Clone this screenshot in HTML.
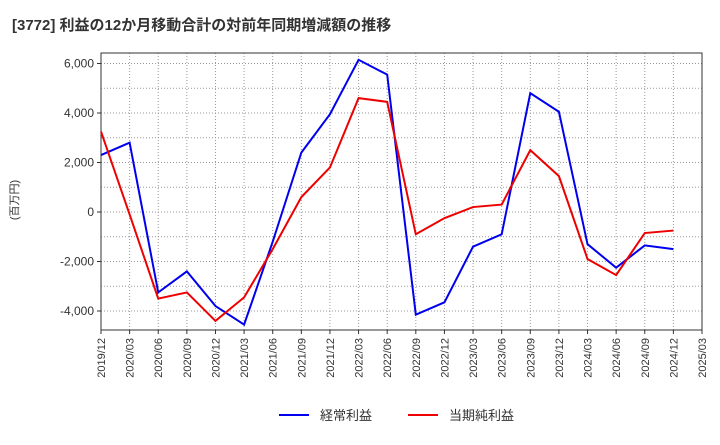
<!DOCTYPE html>
<html><head><meta charset="utf-8"><style>
body{margin:0;background:#fff;font-family:"Liberation Sans","Noto Sans CJK JP",sans-serif;}
</style></head><body>
<svg id="c" width="720" height="440" xmlns="http://www.w3.org/2000/svg">
<text x="12" y="30" font-size="15" font-weight="bold" fill="#333" font-family="Liberation Sans,Noto Sans CJK JP,sans-serif">[3772]  利益の12か月移動合計の対前年同期増減額の推移</text>
<text transform="translate(18,200) rotate(-90)" font-size="11" fill="#333" text-anchor="middle" font-family="Liberation Sans,Noto Sans CJK JP,sans-serif">(百万円)</text>
<g id="grid"></g><g id="axes"></g><g id="series"></g>
<g>
<line x1="279" y1="415" x2="309" y2="415" stroke="#0000ee" stroke-width="2"/>
<text x="320" y="420" font-size="13" fill="#333" font-family="Liberation Sans,Noto Sans CJK JP,sans-serif">経常利益</text>
<line x1="408" y1="415" x2="438" y2="415" stroke="#ee0000" stroke-width="2"/>
<text x="449" y="420" font-size="13" fill="#333" font-family="Liberation Sans,Noto Sans CJK JP,sans-serif">当期純利益</text>
</g>
</svg>
<script>
const categories=["2019/12","2020/03","2020/06","2020/09","2020/12","2021/03","2021/06","2021/09","2021/12","2022/03","2022/06","2022/09","2022/12","2023/03","2023/06","2023/09","2023/12","2024/03","2024/06","2024/09","2024/12","2025/03"];
const keijo=[2300,2800,-3250,-2400,-3800,-4550,-1200,2400,3950,6150,5550,-4150,-3650,-1400,-900,4800,4050,-1300,-2250,-1350,-1500];
const junri=[3250,-100,-3500,-3250,-4400,-3450,-1500,600,1800,4600,4450,-900,-250,200,300,2500,1450,-1900,-2550,-850,-750];
const yTicks=[-4000,-2000,0,2000,4000,6000];
const yTickLabels=["-4,000","-2,000","0","2,000","4,000","6,000"];
const L=101,R=702,T=53,B=330;
const xs=i=>L+i*(R-L)/(categories.length-1);
const ys=v=>212-v*0.02475;
const NS="http://www.w3.org/2000/svg";
function mk(p,t,a){const e=document.createElementNS(NS,t);for(const k in a)e.setAttribute(k,a[k]);p.appendChild(e);return e;}
const g=document.getElementById('grid'),ax=document.getElementById('axes'),s=document.getElementById('series');
for(let i=1;i<categories.length-1;i++){const l=mk(g,'line',{x1:xs(i),x2:xs(i),y1:T,y2:B,stroke:'#999','stroke-dasharray':'1,2'});

}
for(let v=-4000;v<=6000;v+=1000){const l=mk(g,'line',{x1:L,x2:R,y1:ys(v),y2:ys(v),stroke:'#999','stroke-dasharray':'1,2'});

}
const fr=mk(ax,'rect',{x:L,y:T,width:R-L,height:B-T,fill:'none',stroke:'#333'});


yTicks.forEach((v,i)=>{mk(ax,'line',{x1:L-4,x2:L,y1:ys(v),y2:ys(v),stroke:'#333'});
const t=mk(ax,'text',{x:L-7,y:ys(v)+4,'font-size':12,'text-anchor':'end',fill:'#333'});t.textContent=yTickLabels[i];

});
categories.forEach((c,i)=>{const x=xs(i);mk(ax,'line',{x1:x,x2:x,y1:B,y2:B+4,stroke:'#333'});
const t=mk(ax,'text',{transform:`translate(${x+4},${B+8}) rotate(-90)`,'font-size':11,'text-anchor':'end',fill:'#333'});t.textContent=c;

});
function line(d,col,name){const p=mk(s,'polyline',{points:d.map((v,i)=>xs(i)+','+ys(v)).join(' '),fill:'none',stroke:col,'stroke-width':2});

}
line(keijo,'#0000ee','keijo-line');
line(junri,'#ee0000','junri-line');
</script>
</body></html>
